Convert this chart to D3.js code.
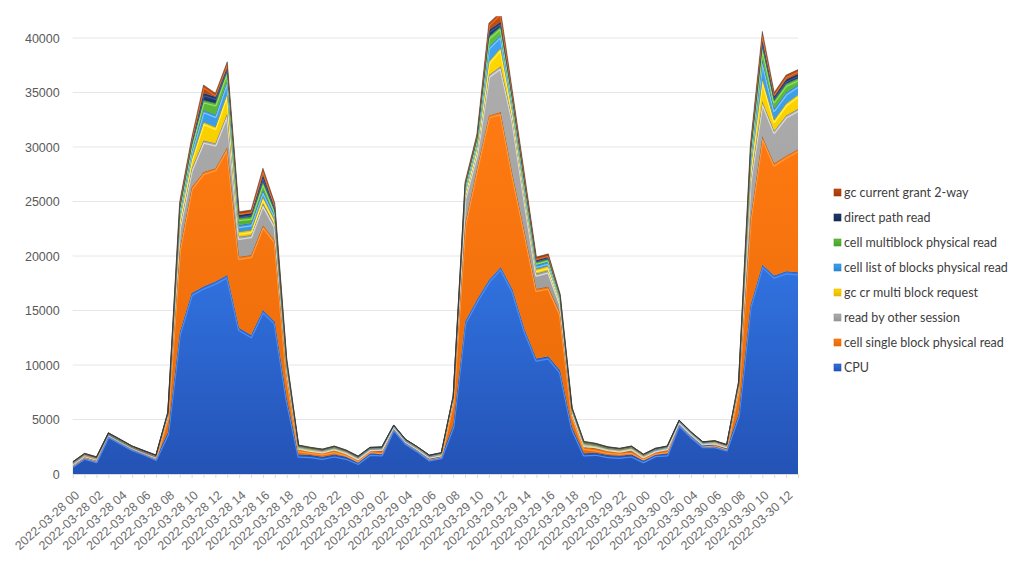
<!DOCTYPE html>
<html>
<head>
<meta charset="utf-8">
<script src="https://cdn.jsdelivr.net/npm/d3@7"></script>
<style>
  html, body { margin: 0; padding: 0; background: #fff; }
  svg { display: block; font-family: Lato, "Open Sans", sans-serif; }
  .tick text { fill: #595959; }
</style>
</head>
<body>
<svg id="chart" width="1024" height="561"></svg>
<script>
// hourly categories, labelled every 2 hours
const categories = [
  '2022-03-28 00', '2022-03-28 01', '2022-03-28 02', '2022-03-28 03', '2022-03-28 04', '2022-03-28 05',
  '2022-03-28 06', '2022-03-28 07', '2022-03-28 08', '2022-03-28 09', '2022-03-28 10', '2022-03-28 11',
  '2022-03-28 12', '2022-03-28 13', '2022-03-28 14', '2022-03-28 15', '2022-03-28 16', '2022-03-28 17',
  '2022-03-28 18', '2022-03-28 19', '2022-03-28 20', '2022-03-28 21', '2022-03-28 22', '2022-03-28 23',
  '2022-03-29 00', '2022-03-29 01', '2022-03-29 02', '2022-03-29 03', '2022-03-29 04', '2022-03-29 05',
  '2022-03-29 06', '2022-03-29 07', '2022-03-29 08', '2022-03-29 09', '2022-03-29 10', '2022-03-29 11',
  '2022-03-29 12', '2022-03-29 13', '2022-03-29 14', '2022-03-29 15', '2022-03-29 16', '2022-03-29 17',
  '2022-03-29 18', '2022-03-29 19', '2022-03-29 20', '2022-03-29 21', '2022-03-29 22', '2022-03-29 23',
  '2022-03-30 00', '2022-03-30 01', '2022-03-30 02', '2022-03-30 03', '2022-03-30 04', '2022-03-30 05',
  '2022-03-30 06', '2022-03-30 07', '2022-03-30 08', '2022-03-30 09', '2022-03-30 10', '2022-03-30 11',
  '2022-03-30 12', '2022-03-30 13',
];

const cpu = [
  850, 1600, 1280, 3600, 3000, 2400, 1980, 1500, 3800, 13000, 16600, 17200, 17650, 18250, 13400, 12750,
  15050, 13970, 7000, 1800, 1740, 1590, 1800, 1590, 1130, 1960, 1900, 4250, 2960, 2260, 1440, 1650,
  4500, 14000, 16000, 17800, 19000, 16900, 13300, 10600, 10800, 9500, 4300, 1900, 1960, 1740, 1680, 1800,
  1280, 1830, 1900, 4650, 3580, 2660, 2660, 2360, 5500, 15500, 19200, 18200, 18600, 18500,
];
const cellSingleBlock = [
  100, 100, 100, 50, 50, 50, 50, 80, 1500, 7700, 9700, 10500, 10400, 11750, 6540, 7340,
  7790, 7480, 2200, 460, 400, 400, 400, 310, 220, 240, 200, 50, 50, 50, 80, 100,
  2200, 9000, 12100, 15100, 14200, 10600, 9000, 6400, 6400, 5300, 1200, 600, 400, 400, 370, 340,
  250, 220, 300, 50, 50, 50, 150, 100, 2300, 8000, 11800, 10300, 10600, 11300,
];
const readByOther = [
  100, 120, 120, 80, 80, 80, 80, 100, 200, 2000, 1700, 2900, 2300, 3100, 1830, 1840,
  1990, 1390, 600, 250, 180, 180, 240, 200, 200, 180, 320, 150, 130, 150, 170, 160,
  300, 2400, 1400, 3700, 4200, 5000, 3000, 1400, 1500, 900, 300, 250, 300, 240, 200, 310,
  200, 220, 280, 200, 200, 200, 200, 200, 300, 3500, 3200, 3000, 3700, 3700,
];
const gcCrMulti = [
  20, 20, 20, 10, 10, 10, 10, 10, 50, 700, 900, 1700, 1500, 1850, 460, 450,
  610, 460, 200, 40, 40, 40, 40, 30, 30, 20, 20, 10, 10, 10, 10, 10,
  50, 400, 500, 1230, 1700, 700, 500, 400, 400, 200, 80, 60, 40, 40, 40, 40,
  30, 30, 30, 10, 10, 10, 10, 10, 100, 1000, 2100, 1000, 1100, 1300,
];
const cellListBlocks = [
  20, 20, 20, 10, 10, 10, 10, 20, 50, 500, 700, 1100, 1100, 1200, 610, 620,
  610, 460, 200, 40, 30, 30, 30, 30, 30, 20, 20, 10, 10, 10, 10, 10,
  50, 400, 400, 1370, 1200, 600, 500, 400, 400, 200, 80, 60, 40, 30, 30, 30,
  30, 30, 30, 10, 10, 10, 10, 10, 100, 800, 1700, 1000, 1000, 900,
];
const cellMultiblock = [
  20, 20, 20, 20, 20, 10, 10, 20, 50, 500, 600, 900, 1060, 900, 640, 600,
  770, 460, 200, 40, 30, 20, 30, 20, 20, 20, 20, 20, 10, 10, 20, 20,
  50, 300, 400, 920, 750, 500, 500, 300, 300, 200, 80, 60, 40, 30, 20, 30,
  20, 20, 20, 20, 20, 20, 20, 20, 100, 700, 1300, 800, 800, 600,
];
const directPath = [
  10, 10, 10, 10, 10, 10, 10, 10, 30, 300, 300, 650, 610, 370, 280, 340,
  610, 300, 100, 20, 20, 20, 20, 10, 10, 10, 10, 10, 10, 10, 10, 10,
  30, 150, 200, 610, 450, 300, 300, 200, 200, 100, 40, 40, 20, 10, 10, 10,
  10, 10, 10, 10, 10, 10, 10, 10, 50, 400, 600, 400, 400, 400,
];
const gcCurrentGrant = [
  10, 10, 10, 10, 10, 10, 10, 10, 20, 300, 300, 740, 320, 400, 300, 280,
  620, 310, 100, 10, 10, 10, 10, 10, 10, 0, 10, 0, 0, 0, 0, 0,
  20, 150, 200, 620, 900, 400, 400, 200, 200, 100, 20, 30, 20, 10, 10, 10,
  10, 0, 0, 0, 0, 0, 0, 10, 50, 400, 700, 300, 400, 400,
];

const seriesNames = [
  'CPU', 'cell single block physical read', 'read by other session', 'gc cr multi block request',
  'cell list of blocks physical read', 'cell multiblock physical read', 'direct path read',
  'gc current grant 2-way',
];
const seriesValues = [cpu, cellSingleBlock, readByOther, gcCrMulti, cellListBlocks, cellMultiblock,
  directPath, gcCurrentGrant];
const yTicks = [0, 5000, 10000, 15000, 20000, 25000, 30000, 35000, 40000];

// fill colours: [light, base, dark]
const palette = [
  ['#4a8ef5', '#3173e0', '#2452b5'],
  ['#ff9a3d', '#ff7a12', '#e86a08'],
  ['#dadada', '#adadad', '#959595'],
  ['#fff15a', '#ffd700', '#e6b800'],
  ['#7cc6fa', '#3fa3ef', '#2b86d0'],
  ['#8ee06a', '#5fbe3a', '#47a02a'],
  ['#3a5a9a', '#1f3a70', '#142a55'],
  ['#e0702e', '#c44a10', '#9e3a0a'],
];

const dim = {
  l: 72.7, r: 798, t: 16.2, b: 474,
};

const svg = d3.select('#chart');
const defs = svg.append('defs');

const table = categories.map((c, i) => {
  const row = { cat: c };
  seriesNames.forEach((s, k) => { row[s] = seriesValues[k][i]; });
  return row;
});

const scaleX = d3.scalePoint().domain(categories).range([dim.l, dim.r]);
const scaleY = d3.scaleLinear().domain([0, 42000]).range([dim.b, dim.t]);

// grid
svg.append('g')
  .selectAll('line')
  .data(yTicks.slice(1))
  .join('line')
  .attr('x1', dim.l)
  .attr('x2', dim.r)
  .attr('y1', (d) => scaleY(d))
  .attr('y2', (d) => scaleY(d))
  .style('stroke', '#e6e6e6')
  .style('stroke-width', 1);

const yAxis = svg.append('g')
  .attr('transform', `translate(${dim.l - 8},0)`)
  .call(d3.axisLeft(scaleY).tickValues(yTicks).tickSize(0).tickFormat(d3.format('d')));
yAxis.select('.domain').remove();
yAxis.selectAll('text').style('font-size', '12.5px').attr('dx', '-2');

defs.append('clipPath').attr('id', 'plot-clip')
  .append('rect')
  .attr('x', dim.l)
  .attr('y', dim.t)
  .attr('width', dim.r - dim.l)
  .attr('height', dim.b - dim.t);

palette.forEach((p, k) => {
  const g = defs.append('linearGradient')
    .attr('id', `grad-${k}`)
    .attr('x1', 0).attr('y1', 0)
    .attr('x2', 0)
    .attr('y2', 1);
  g.append('stop').attr('offset', '0%').attr('stop-color', p[1]);
  g.append('stop').attr('offset', '100%').attr('stop-color', p[2]);
});

const stacked = d3.stack().keys(seriesNames)(table);

const area = d3.area()
  .x((d) => scaleX(d.data.cat))
  .y0((d) => scaleY(d[0]))
  .y1((d) => scaleY(d[1]));

const topLine = d3.line()
  .x((d) => scaleX(d.data.cat))
  .y((d) => scaleY(d[1]));

const plot = svg.append('g').attr('clip-path', 'url(#plot-clip)');

stacked.forEach((layer, k) => {
  defs.append('clipPath').attr('id', `layer-clip-${k}`)
    .append('path')
    .attr('d', area(layer));

  const g = plot.append('g').attr('class', 'layer');

  g.append('path')
    .attr('d', area(layer))
    .style('fill', `url(#grad-${k})`);

  // bevel highlight just under the top edge
  g.append('path')
    .attr('d', topLine(layer))
    .attr('clip-path', `url(#layer-clip-${k})`)
    .attr('transform', 'translate(0,2)')
    .style('fill', 'none')
    .style('stroke', palette[k][0])
    .style('stroke-width', 2.5)
    .style('stroke-linejoin', 'round');

  g.append('path')
    .attr('d', topLine(layer))
    .style('fill', 'none')
    .style('stroke', 'rgba(50,50,50,0.55)')
    .style('stroke-width', 0.9)
    .style('stroke-linejoin', 'round');
});

// category axis
const xAxis = svg.append('g')
  .attr('transform', `translate(0,${dim.b})`)
  .call(d3.axisBottom(scaleX).tickSize(4).tickSizeOuter(0)
    .tickFormat((d, i) => (i % 2 === 0 ? d : '')));
xAxis.select('.domain').style('stroke', '#d9d9d9');
xAxis.selectAll('line').style('stroke', '#d9d9d9');
xAxis.selectAll('text')
  .style('font-size', '12.5px')
  .style('fill', '#6e6e6e')
  .style('text-anchor', 'end')
  .attr('y', 0)
  .attr('dy', '0.35em')
  .attr('transform', 'translate(4,19) rotate(-42)');

// legend, last series on top
const legend = svg.append('g').attr('transform', 'translate(834,192.5)');
const items = legend.selectAll('g')
  .data(seriesNames.map((s, k) => ({ s, k })).reverse())
  .join('g')
  .attr('transform', (d, i) => `translate(0,${i * 25})`);

items.append('rect')
  .attr('x', 0)
  .attr('y', -3.5)
  .attr('width', 7)
  .attr('height', 7)
  .style('fill', (d) => `url(#grad-${d.k})`)
  .style('stroke', (d) => palette[d.k][2])
  .style('stroke-width', 0.6);

items.append('text')
  .attr('x', 10)
  .attr('dy', '0.35em')
  .style('font-size', '12.5px')
  .style('fill', '#404040')
  .text((d) => d.s);
</script>
</body>
</html>
